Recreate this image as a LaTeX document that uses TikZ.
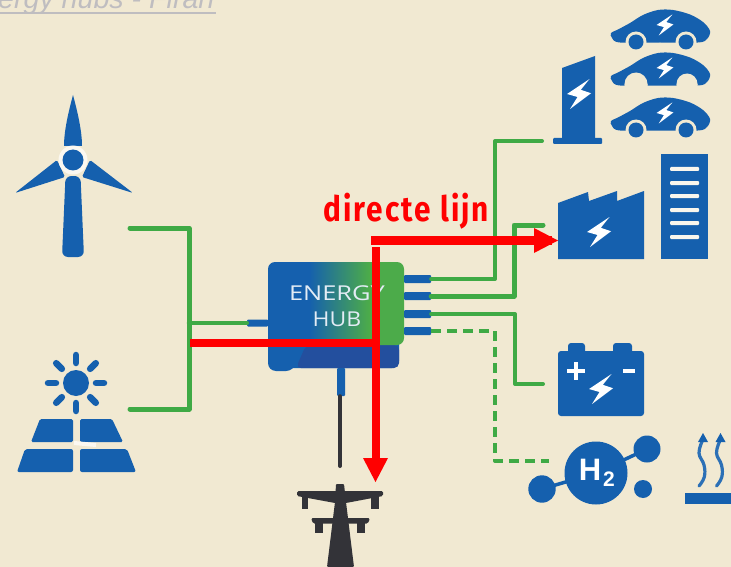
\documentclass[tikz,border=0pt]{standalone}
\usepackage{fontspec}
\setmainfont{Liberation Sans}
\newfontfamily\labelfont[LetterSpace=7]{Fira Sans}
\newfontfamily\hubfont{Open Sans}
\usetikzlibrary{calc}
\definecolor{bgcream}{HTML}{F1E9D2}
\definecolor{iconblue}{HTML}{1560AE}
\definecolor{darkblue}{HTML}{234F9E}
\definecolor{linegreen}{HTML}{3FAA45}
\definecolor{hubgreen}{HTML}{4CAB4A}
\definecolor{pylon}{HTML}{333338}
\definecolor{titlegrey}{HTML}{BFBDC0}
\pgfdeclarehorizontalshading{hubshade}{100bp}{color(0bp)=(iconblue);color(40bp)=(iconblue);color(62bp)=(hubgreen);color(100bp)=(hubgreen)}
\newcommand{\boltshape}{(0.7,-1) -- (-0.8,0) -- (-0.1,0.2) -- (-0.6,1) -- (0.8,-0.05) -- (0.12,-0.28) -- cycle}
\newcommand{\carbody}{plot[smooth cycle,tension=0.55] coordinates {(611,33) (617,30) (630,23) (643,15) (658,10) (673,10) (690,14.5) (703,22) (710,31) (707,39) (698,42.5) (660,42.5) (620,42.5) (612,38)}}
\tikzset{
  icon/.style={fill=iconblue,draw=none},
  glink/.style={draw=linegreen,line width=4pt,line join=round,line cap=round},
  gdash/.style={glink,line cap=butt,dash pattern=on 10pt off 6pt},
  redline/.style={draw=red,line width=8.5pt},
  stub/.style={fill=iconblue,inner sep=0pt,minimum width=27pt,minimum height=8pt,rounded corners=1pt},
  window/.style={fill=bgcream!40!white,rounded corners=1pt},
}
\begin{document}
\begin{tikzpicture}[x=1pt,y=-1pt]
\useasboundingbox (0,0) rectangle (731,567);
\clip (0,0) rectangle (731,567);
\fill[bgcream] (0,0) rectangle (731,567);

% title
\node[anchor=base west,inner sep=0pt,text=titlegrey,font=\itshape\fontsize{28.6}{28.6}\selectfont] (title) at (-2,9) {ergy hubs - Firan};
\draw[titlegrey,line width=2pt] (0,12.7) -- (216,12.7);

% wind turbine
\fill[icon] (73,95) .. controls (77,110) and (82,130) .. (82,146) -- (64,146) .. controls (64,130) and (69,110) .. (73,95) -- cycle;
\fill[icon,rounded corners=1.5pt] (15,193) -- (57,160) -- (65,177) -- cycle;
\fill[icon,rounded corners=1.5pt] (133,193) -- (90,160) -- (82,177) -- cycle;
\fill[icon,rounded corners=6pt] (65.5,176) -- (80.5,176) -- (84,257) -- (62,257) -- cycle;
\fill[white!70!bgcream] (73,160) circle (14.5);
\fill[iconblue] (73,160) circle (10.5);

% solar panel
\fill[iconblue] (76,383) circle (13);
\foreach \a in {0,45,...,315}{\draw[iconblue,line width=6.5pt,line cap=round] (76,383) ++(\a:20) -- ++(\a:8);}
\fill[icon,rounded corners=1.5pt] (40,419) -- (73,419) -- (73,442) -- (31,442) -- cycle;
\fill[icon,rounded corners=1.5pt] (80,419) -- (112,419) -- (123,442) -- (80,442) -- cycle;
\fill[icon,rounded corners=2pt] (25,449) -- (73,449) -- (73,472) -- (17,472) -- cycle;
\fill[icon,rounded corners=2pt] (80,449) -- (127,449) -- (136,472) -- (80,472) -- cycle;
\draw[white!70!bgcream,line width=4pt] (74,443) -- (96,445);

% connector anchors
\coordinate (windEnd) at (130,228);
\coordinate (solarEnd) at (130,409);
\coordinate (busTop) at (189,228);
\coordinate (busBot) at (189,409);
\coordinate (busMid) at (189,323);
\coordinate (chargeEnd) at (542,141);
\coordinate (factoryEnd) at (543,225);
\coordinate (batteryEnd) at (543,384);
\coordinate (h2End) at (549,461);
\coordinate (gridEnd) at (340,466);

% hub
\fill[iconblue,rounded corners=7pt] (268,300) rectangle (399,368);
\fill[iconblue,rounded corners=8pt] (268,335) -- (268,371) -- (294,371) -- (300,345) -- cycle;
\fill[darkblue,rounded corners=5pt] (296,368) -- (306,345) -- (399,345) -- (399,368) -- cycle;
\path[shading=hubshade,rounded corners=7pt] (268,345) -- (268,262) -- (404,262) -- (404,345) -- cycle;
\node[inner sep=0pt,minimum width=136pt,minimum height=106pt] (hub) at (336,315) {};
\node[text=white!88!iconblue,font=\hubfont\fontsize{20.5}{20.5}\selectfont,inner sep=0pt] (hubA) at (337,293) {\scalebox{1.24}[1]{ENERGY}};
\node[text=white!88!iconblue,font=\hubfont\fontsize{20.5}{20.5}\selectfont,inner sep=0pt] (hubB) at (337,319) {\scalebox{1.12}[1]{HUB}};

% hub stubs
\node[stub,minimum width=21pt,minimum height=7pt] (stubL) at (257.5,323) {};
\node[stub] (stubA) at (417.5,279) {};
\node[stub] (stubB) at (417.5,296) {};
\node[stub] (stubC) at (417.5,314) {};
\node[stub] (stubD) at (417.5,331) {};
\node[stub,minimum width=8pt,minimum height=28pt] (stubG) at (341,382) {};

% green connectors
\draw[glink,line width=5pt] (windEnd) -- (busTop) -- (busBot) -- (solarEnd);
\draw[glink,line width=4.5pt] (busMid) -- (stubL.west);
\draw[glink] (stubA.east) -- (495,279) -- (495,141) -- (chargeEnd);
\draw[glink,line width=5pt] (stubB.east) -- (514,296) -- (514,225) -- (factoryEnd);
\draw[glink] (stubC.east) -- (515,314) -- (515,384) -- (batteryEnd);
\draw[gdash] (stubD.east) -- (495,331) -- (495,461) -- (h2End);
\draw[pylon,line width=4pt,line cap=round] (stubG.south) ++(-1,0) -- (gridEnd);

% charger
\fill[icon] (562,68) -- (595,56) -- (595,138) -- (562,138) -- cycle;
\fill[icon,rounded corners=1pt] (553,138) rectangle (602,144);
\fill[white,shift={(579,94)},scale=15] \boltshape;

% cars
\foreach \dy in {0,88}{
  \begin{scope}[shift={(0,\dy)}]
    \fill[icon] \carbody;
    \fill[bgcream] (636,42) circle (10.5) (686,42) circle (10.5);
    \fill[iconblue] (636,42) circle (7.5) (686,42) circle (7.5);
    \fill[white,shift={(665,25)},scale=10.5] \boltshape;
  \end{scope}
}
\begin{scope}[shift={(0,43)}]
  \fill[icon] \carbody;
  \fill[bgcream] (636,41) circle (11.5) (687,41) circle (10.5);
  \fill[bgcream] (624.5,41) rectangle (647.5,44) (676.5,41) rectangle (697.5,44);
  \fill[white,shift={(665,25)},scale=10.5] \boltshape;
\end{scope}

% factory
\fill[icon] (558,203) -- (588,192) -- (589,201) -- (617,191) -- (617,201) -- (644,191) -- (644,259) -- (558,259) -- cycle;
\fill[white,shift={(599,232)},scale=15] \boltshape;

% building
\fill[icon] (661,154) rectangle (708,259);
\foreach \wy in {169,183,196,210,223,237}{\fill[window] (670,\wy-2) rectangle (699,\wy+2);}

% battery
\fill[icon,rounded corners=3pt] (568,343) rectangle (585,356);
\fill[icon,rounded corners=3pt] (613,343) rectangle (632,356);
\fill[icon,rounded corners=3pt] (558,351) rectangle (644,416);
\draw[white,line width=4pt] (567,371) -- (585,371) (576,362) -- (576,380);
\draw[white,line width=3.5pt] (623,371) -- (635,371);
\fill[white,shift={(601,389)},scale=15] \boltshape;

% hydrogen
\draw[iconblue,line width=3.5pt] (542,489) -- (596,473) -- (647,449);
\fill[iconblue] (596,473) circle (31.5);
\fill[iconblue] (647,449) circle (13.5);
\fill[iconblue] (643,489) circle (9);
\fill[iconblue] (542,489) circle (13.7);
\node[text=white,inner sep=0pt,font=\bfseries\fontsize{31}{31}\selectfont] (hTwo) at (590,469.5) {H};
\node[text=white,inner sep=0pt,font=\bfseries\fontsize{21}{21}\selectfont] (hSub) at (609,479.5) {2};

% heat
\fill[icon] (685,493) rectangle (731,504);
\foreach \hx in {0,17.5}{
  \begin{scope}[shift={(\hx,0)}]
    \draw[iconblue!90!white,line width=3.2pt,line cap=round] plot[smooth,tension=0.7] coordinates {(702.7,440) (699,453) (704,465) (704.3,477) (699,486)};
    \fill[iconblue] (703,433) -- (708,442) -- (698,442) -- cycle;
  \end{scope}
}

% pylon
\fill[pylon,rounded corners=1pt] (336,484) -- (344,484) -- (346,502) -- (354,567) -- (327,567) -- (335,502) -- cycle;
\fill[pylon,rounded corners=1.5pt] (297,491) -- (383,491) -- (383,496) -- (346,503) -- (335,503) -- (297,496) -- cycle;
\fill[pylon] (301.5,495) rectangle (308,509);
\fill[pylon] (371,495) rectangle (379,509);
\fill[pylon,rounded corners=1.5pt] (311,518) -- (370,518) -- (368,523.5) -- (313,523.5) -- cycle;
\fill[pylon] (315,522) rectangle (323,533);
\fill[pylon] (357,522) rectangle (365,533);

% red overlay
\coordinate (redStart) at (190,343);
\coordinate (redJoin) at (375.5,343);
\coordinate (redTop) at (375.5,247);
\coordinate (redLeft) at (371,240.5);
\coordinate (redRight) at (552,240.5);
\coordinate (redDown) at (375.5,462);
\draw[redline] (redStart) -- (redJoin);
\draw[redline,line width=8pt] (redTop) -- (redDown);
\fill[red] (363,458) -- (388,458) -- (375.5,482) -- cycle;
\draw[redline] (redLeft) -- (redRight);
\fill[red] (534,228) -- (558,240.5) -- (534,253) -- cycle;
\node[anchor=base west,inner sep=0pt,text=red,font=\labelfont\bfseries\fontsize{35}{35}\selectfont] (directe) at (323,221) {\scalebox{0.85}[1]{directe lijn}};
\end{tikzpicture}
\end{document}
